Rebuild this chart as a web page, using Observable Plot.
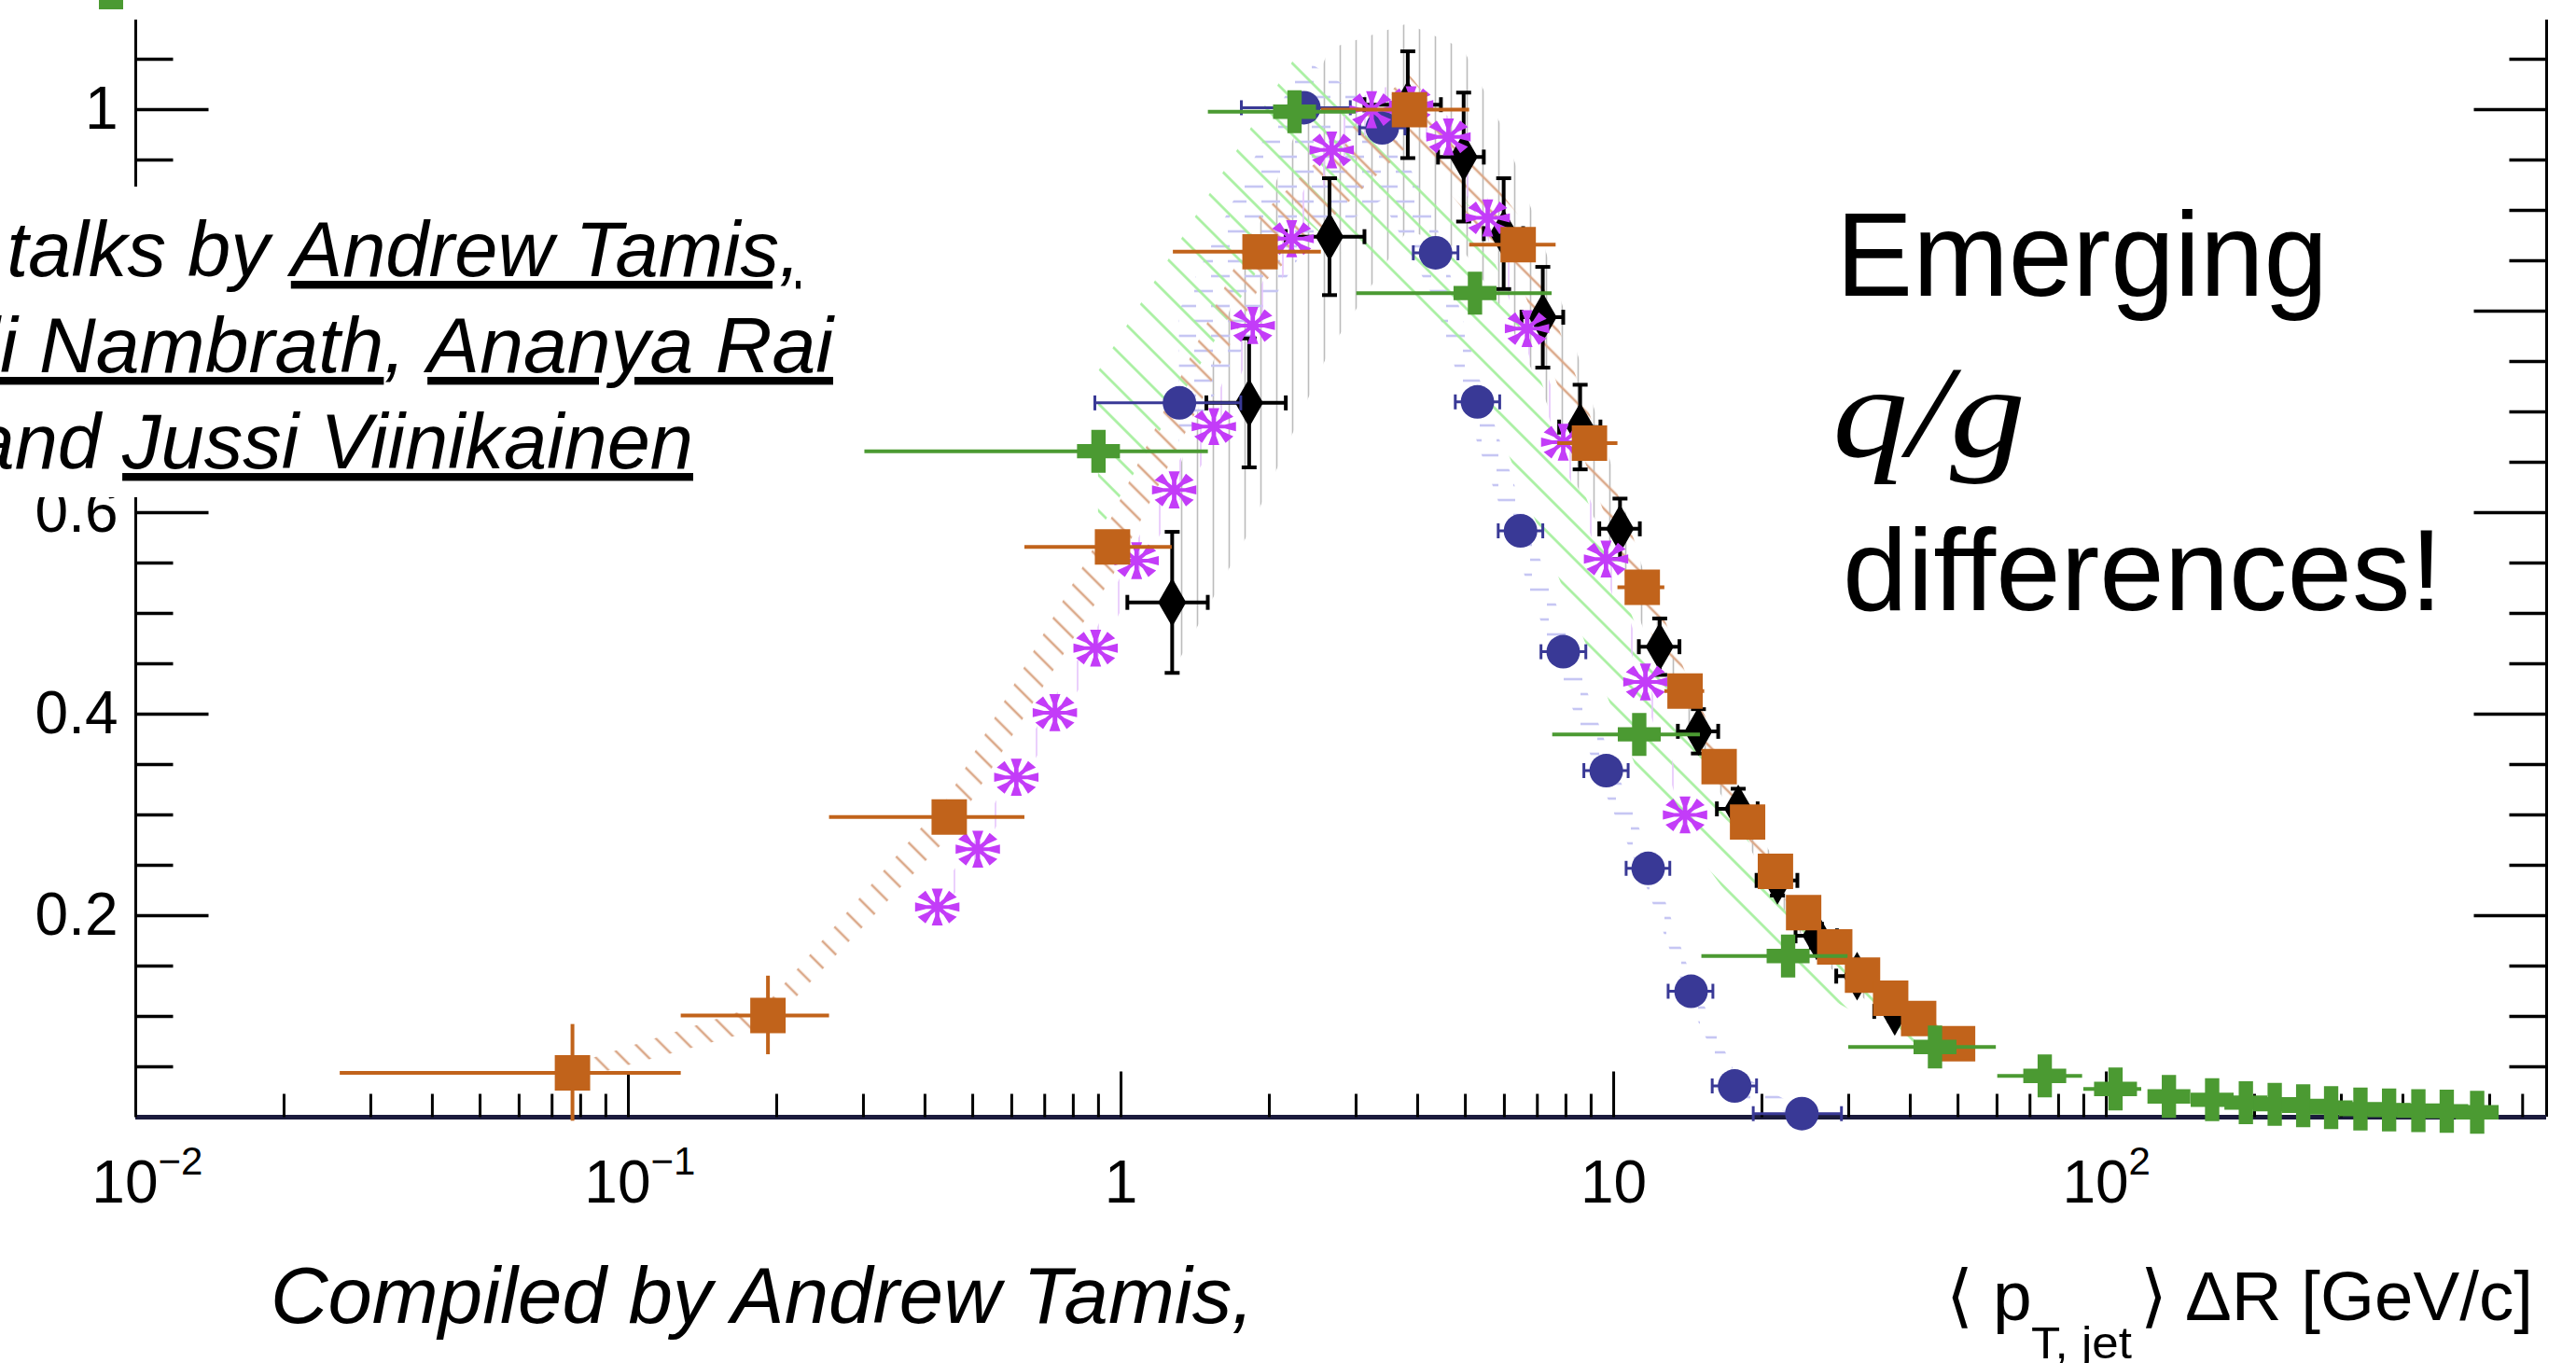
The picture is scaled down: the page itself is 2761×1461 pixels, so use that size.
<!DOCTYPE html>
<html><head><meta charset="utf-8">
<script src="https://cdn.jsdelivr.net/npm/d3@7"></script>
<script src="https://cdn.jsdelivr.net/npm/@observablehq/plot@0.6"></script>
<style>
html,body{margin:0;padding:0;background:#fff;overflow:hidden;}
#chart{position:relative;width:2761px;height:1461px;}
</style></head><body><div id="chart"></div>
<script>
// ---------------- data ----------------
// orange squares
const orangeX   = [0.077, 0.192, 0.448, 0.961, 1.915, 3.85, 6.4, 8.93, 11.43, 13.96, 16.37, 18.7, 21.3, 24.3, 28.1, 32.0, 36.5, 41.6, 49.9];
const orangeY   = [0.044, 0.101, 0.298, 0.566, 0.859, 1.0, 0.866, 0.669, 0.526, 0.423, 0.348, 0.293, 0.244, 0.203, 0.169, 0.141, 0.118, 0.098, 0.073];
const orangeXlo = [0.026, 0.128, 0.256, 0.638, 1.277, 2.55, 5.1, 7.7, 10.2, 12.7, 16.37, 18.7, 21.3, 24.3, 28.1, 32.0, 36.5, 41.6, 49.9];
const orangeXhi = [0.128, 0.256, 0.638, 1.27, 2.55, 5.1, 7.64, 10.2, 12.7, 15.3, 16.37, 18.7, 21.3, 24.3, 28.1, 32.0, 36.5, 41.6, 49.9];
const orangeYerr= [0.048, 0.039, 0, 0, 0, 0, 0, 0, 0, 0, 0, 0, 0, 0, 0, 0, 0, 0, 0];
const orangeSys = [0.008, 0.012, 0.02, 0.03, 0.035, 0.035, 0.03, 0.03, 0.025, 0.02, 0.02, 0.018, 0.015, 0.012, 0.01, 0.01, 0.008, 0.008, 0.006];

// black diamonds
const blackX   = [1.27, 1.82, 2.65, 3.82, 4.96, 5.98, 7.18, 8.55, 10.3, 12.4, 14.86, 17.9, 21.5, 25.8, 31.2, 37.2];
const blackY   = [0.511, 0.709, 0.874, 1.005, 0.953, 0.877, 0.794, 0.685, 0.584, 0.467, 0.383, 0.306, 0.235, 0.18, 0.14, 0.105];
const blackXlo = [1.03, 1.49, 2.16, 3.12, 4.4, 5.45, 6.5, 7.75, 9.35, 11.25, 13.5, 16.2, 19.5, 23.4, 28.3, 33.8];
const blackXhi = [1.50, 2.16, 3.12, 4.46, 5.45, 6.55, 7.9, 9.4, 11.3, 13.6, 16.3, 19.6, 23.6, 28.4, 34.3, 40.9];
const blackYerr= [0.07, 0.064, 0.058, 0.053, 0.064, 0.055, 0.05, 0.042, 0.03, 0.028, 0.022, 0.02, 0.015, 0.012, 0.01, 0.01];
const blackLo  = [0.44, 0.58, 0.76, 0.88, 0.86, 0.80, 0.72, 0.62, 0.55, 0.44, 0.36, 0.29, 0.215, 0.16, 0.125, 0.085];
const blackHi  = [0.62, 0.86, 1.06, 1.085, 1.06, 0.98, 0.87, 0.75, 0.62, 0.49, 0.40, 0.32, 0.25, 0.195, 0.155, 0.115];

// blue circles
const blueX   = [1.314, 2.35, 3.39, 4.35, 5.29, 6.47, 7.9, 9.66, 11.75, 14.36, 17.6, 24.1];
const blueY   = [0.709, 1.002, 0.982, 0.858, 0.710, 0.582, 0.462, 0.344, 0.247, 0.125, 0.031, 0.0035];
const blueXlo = [0.885, 1.755, 3.05, 3.92, 4.77, 5.83, 7.12, 8.7, 10.6, 12.9, 15.85, 19.2];
const blueXhi = [1.75, 2.92, 3.77, 4.83, 5.87, 7.18, 8.78, 10.7, 13.0, 15.9, 19.5, 29.0];
const blueLo  = [0.66, 0.86, 0.91, 0.81, 0.67, 0.55, 0.43, 0.32, 0.225, 0.11, 0.02, 0.0];
const blueHi  = [0.80, 1.05, 1.0, 0.89, 0.74, 0.61, 0.49, 0.37, 0.265, 0.14, 0.045, 0.008];

// magenta stars
const magX   = [0.4236, 0.512, 0.613, 0.734, 0.888, 1.0755, 1.282, 1.543, 1.851, 2.22, 2.677, 3.226, 3.88, 4.62, 5.55, 6.67, 7.9, 9.65, 11.6, 13.96];
const magY   = [0.2086, 0.266, 0.3374, 0.4015, 0.4656, 0.5524, 0.6226, 0.6855, 0.7858, 0.872, 0.96, 1.0, 1.005, 0.973, 0.8926, 0.7827, 0.67, 0.554, 0.432, 0.30];
const magSys = [0.012, 0.012, 0.014, 0.015, 0.016, 0.018, 0.02, 0.02, 0.02, 0.02, 0.02, 0.02, 0.02, 0.02, 0.02, 0.02, 0.018, 0.016, 0.014, 0.012];

// green crosses
const greenX   = [0.90, 2.25, 5.23, 11.27, 22.6, 44.9, 75, 104.4, 134, 164, 192, 219.7, 251, 286, 328, 375, 430, 491, 566];
const greenY   = [0.661, 0.998, 0.818, 0.380, 0.160, 0.0697, 0.041, 0.028, 0.0206, 0.0173, 0.0144, 0.0128, 0.0113, 0.0096, 0.008, 0.0071, 0.0065, 0.0059, 0.0049];
const greenXlo = [0.302, 1.504, 3.01, 7.52, 15.1, 30.0, 60.2, 90, 134, 164, 192, 219.7, 251, 286, 328, 375, 430, 491, 566];
const greenXhi = [1.504, 3.0, 7.5, 15.0, 29.9, 59.8, 89.5, 118, 134, 164, 192, 219.7, 251, 286, 328, 375, 430, 491, 566];
const greenBandX  = [0.90, 2.25, 5.23, 11.27, 22.6, 44.9];
const greenBandLo = [0.58, 0.90, 0.74, 0.34, 0.14, 0.06];
const greenBandHi = [0.74, 1.05, 0.90, 0.48, 0.20, 0.08];

// axes
const X_MIN = 0.01, X_MAX = 783, Y_MAX = 1.089;
const xMajor = [0.01, 0.1, 1, 10, 100];
const xMinorMult = [2, 3, 4, 5, 6, 7, 8, 9];
const yMajor = [0.2, 0.4, 0.6, 0.8, 1.0];
const yMinor = [0.05, 0.1, 0.15, 0.25, 0.3, 0.35, 0.45, 0.5, 0.55, 0.65, 0.7, 0.75, 0.85, 0.9, 0.95, 1.05];
const yTickLabels = [{v: 0.2, t: "0.2"}, {v: 0.4, t: "0.4"}, {v: 0.6, t: "0.6"}, {v: 1.0, t: "1"}];
const xPlainLabels = [{v: 1, t: "1"}, {v: 10, t: "10"}];
const xExpLabels = [{v: 0.01, base: "10", exp: "\u22122"}, {v: 0.1, base: "10", exp: "\u22121"}, {v: 100, base: "10", exp: "2"}];

// ---------------- build ----------------
const ORANGE = "#c1631b", BLUE = "#393996", MAG = "#c33cf8", GREEN = "#4b9a32";
const orange = orangeX.map((x, i) => ({x, y: orangeY[i], xlo: orangeXlo[i], xhi: orangeXhi[i], yerr: orangeYerr[i], sys: orangeSys[i]}));
const black = blackX.map((x, i) => ({x, y: blackY[i], xlo: blackXlo[i], xhi: blackXhi[i], yerr: blackYerr[i], lo: blackLo[i], hi: blackHi[i]}));
const blue = blueX.map((x, i) => ({x, y: blueY[i], xlo: blueXlo[i], xhi: blueXhi[i], lo: blueLo[i], hi: blueHi[i]}));
const mag = magX.map((x, i) => ({x, y: magY[i], sys: magSys[i]}));
const green = greenX.map((x, i) => ({x, y: greenY[i], xlo: greenXlo[i], xhi: greenXhi[i]}));
const greenBand = greenBandX.map((x, i) => ({x, lo: greenBandLo[i], hi: greenBandHi[i]}));
const xMinor = xMajor.flatMap(d => xMinorMult.map(m => d * m)).filter(v => v < X_MAX);

const seg = (dx, dy) => ({draw(ctx) { ctx.moveTo(0, 0); ctx.lineTo(dx, dy); }});
const vcap = {draw(ctx) { ctx.moveTo(0, -8); ctx.lineTo(0, 8); }};
const hcap = {draw(ctx) { ctx.moveTo(-8, 0); ctx.lineTo(8, 0); }};
const asterisk = {draw(ctx, size) {
  const R = Math.sqrt(size / Math.PI);
  const h = R * 0.1, t = R * 0.25, L = R * 0.5;
  for (let k = 0; k < 8; k++) {
    const a = k * Math.PI / 4, c = Math.cos(a), s = Math.sin(a);
    const P = (u, v) => [(u * c - v * s) * 1.08, (u * s + v * c) * 0.9];
    const pts = [P(0, -h), P(L, -h), P(R, -t), P(R, t), P(L, h), P(0, h)];
    ctx.moveTo(pts[0][0], pts[0][1]);
    for (let j = 1; j < pts.length; j++) ctx.lineTo(pts[j][0], pts[j][1]);
    ctx.closePath();
  }
}};
const FONT = "Liberation Sans, Arial, Helvetica, sans-serif";

const svg = Plot.plot({
  width: 2761, height: 1461,
  marginLeft: 145, marginRight: 32, marginTop: 21, marginBottom: 264,
  style: {background: "white", overflow: "visible"},
  x: {type: "log", domain: [X_MIN, X_MAX], axis: null},
  y: {domain: [0, Y_MAX], axis: null},
  marks: [
    // systematic bands
    Plot.areaY(black, {x: "x", y1: "lo", y2: "hi", fill: "url(#hGray)"}),
    Plot.areaY(blue, {x: "x", y1: "lo", y2: "hi", fill: "url(#hBlue)"}),
    Plot.areaY(greenBand, {x: "x", y1: "lo", y2: "hi", fill: "url(#hGreen)"}),
    Plot.areaY(orange, {x: "x", y1: d => d.y - d.sys, y2: d => d.y + d.sys, fill: "url(#hOrange)"}),
    Plot.areaY(mag, {x: "x", y1: d => d.y - d.sys, y2: d => d.y + d.sys, fill: "url(#hMag)"}),
    // frame
    Plot.ruleX([X_MIN], {y1: 0, y2: Y_MAX, stroke: "black", strokeWidth: 3}),
    Plot.ruleX([X_MAX], {y1: 0, y2: Y_MAX, stroke: "black", strokeWidth: 3}),
    Plot.ruleY([0], {x1: X_MIN, x2: X_MAX, stroke: "#1b1b3d", strokeWidth: 5}),
    // ticks
    Plot.dot(yMajor, {x: () => X_MIN, y: d => d, symbol: seg(78, 0), fill: "none", stroke: "black", strokeWidth: 3.5}),
    Plot.dot(yMinor, {x: () => X_MIN, y: d => d, symbol: seg(40, 0), fill: "none", stroke: "black", strokeWidth: 3.5}),
    Plot.dot(yMajor, {x: () => X_MAX, y: d => d, symbol: seg(-78, 0), fill: "none", stroke: "black", strokeWidth: 3.5}),
    Plot.dot(yMinor, {x: () => X_MAX, y: d => d, symbol: seg(-40, 0), fill: "none", stroke: "black", strokeWidth: 3.5}),
    Plot.dot(xMajor, {x: d => d, y: () => 0, symbol: seg(0, -49), fill: "none", stroke: "black", strokeWidth: 3}),
    Plot.dot(xMinor, {x: d => d, y: () => 0, symbol: seg(0, -25), fill: "none", stroke: "black", strokeWidth: 3}),
    // tick labels
    Plot.text(yTickLabels, {x: () => X_MIN, y: "v", text: "t", textAnchor: "end", dx: -19, lineAnchor: "middle", fontSize: 64, fontFamily: FONT, fill: "black"}),
    Plot.text(xPlainLabels, {x: "v", y: () => 0, text: "t", textAnchor: "middle", dy: 91, lineAnchor: "bottom", fontSize: 64, fontFamily: FONT, fill: "black"}),
    Plot.text(xExpLabels, {x: "v", y: () => 0, text: "base", textAnchor: "end", dx: 24, dy: 91, lineAnchor: "bottom", fontSize: 64, fontFamily: FONT, fill: "black"}),
    Plot.text(xExpLabels, {x: "v", y: () => 0, text: "exp", textAnchor: "start", dx: 24, dy: 61, lineAnchor: "bottom", fontSize: 42, fontFamily: FONT, fill: "black"}),
    // black diamonds
    Plot.ruleY(black, {y: "y", x1: "xlo", x2: "xhi", stroke: "black", strokeWidth: 4}),
    Plot.ruleX(black, {x: "x", y1: d => d.y - d.yerr, y2: d => d.y + d.yerr, stroke: "black", strokeWidth: 4}),
    Plot.dot(black, {x: "xlo", y: "y", symbol: vcap, fill: "none", stroke: "black", strokeWidth: 4}),
    Plot.dot(black, {x: "xhi", y: "y", symbol: vcap, fill: "none", stroke: "black", strokeWidth: 4}),
    Plot.dot(black, {x: "x", y: d => d.y + d.yerr, symbol: hcap, fill: "none", stroke: "black", strokeWidth: 4}),
    Plot.dot(black, {x: "x", y: d => d.y - d.yerr, symbol: hcap, fill: "none", stroke: "black", strokeWidth: 4}),
    Plot.dot(black, {x: "x", y: "y", symbol: "diamond", r: 15.8, fill: "black", stroke: "none"}),
    // blue circles
    Plot.ruleY(blue, {y: "y", x1: "xlo", x2: "xhi", stroke: BLUE, strokeWidth: 3}),
    Plot.dot(blue, {x: "xlo", y: "y", symbol: vcap, fill: "none", stroke: BLUE, strokeWidth: 3}),
    Plot.dot(blue, {x: "xhi", y: "y", symbol: vcap, fill: "none", stroke: BLUE, strokeWidth: 3}),
    Plot.dot(blue, {x: "x", y: "y", r: 18, fill: BLUE, stroke: "none"}),
    // magenta stars
    Plot.dot(mag, {x: "x", y: "y", symbol: asterisk, r: 22, fill: MAG, stroke: "none"}),
    // orange squares
    Plot.ruleY(orange, {y: "y", x1: "xlo", x2: "xhi", stroke: ORANGE, strokeWidth: 4}),
    Plot.ruleX(orange.filter(d => d.yerr > 0), {x: "x", y1: d => d.y - d.yerr, y2: d => d.y + d.yerr, stroke: ORANGE, strokeWidth: 4}),
    Plot.dot(orange, {x: "x", y: "y", symbol: "square", r: 21.4, fill: ORANGE, stroke: "none"}),
    // green crosses
    Plot.ruleY(green, {y: "y", x1: "xlo", x2: "xhi", stroke: GREEN, strokeWidth: 4}),
    Plot.dot(green, {x: "x", y: "y", symbol: "cross", r: 19.35, fill: GREEN, stroke: "none"})
  ]
});
document.getElementById("chart").appendChild(svg);

// ---------------- patterns ----------------
const S = d3.select(svg);
const defs = S.insert("defs", ":first-child");
function pat(id, w, h, transform, lines, color, sw) {
  const p = defs.append("pattern").attr("id", id).attr("patternUnits", "userSpaceOnUse")
    .attr("width", w).attr("height", h);
  if (transform) p.attr("patternTransform", transform);
  lines.forEach(([x1, y1, x2, y2]) => p.append("line").attr("x1", x1).attr("y1", y1).attr("x2", x2).attr("y2", y2)
    .attr("stroke", color).attr("stroke-width", sw));
}
pat("hGreen", 27, 27, "rotate(45)", [[0, 13.5, 27, 13.5]], "#a4ef9c", 2.6);
pat("hOrange", 20, 20, "rotate(45)", [[0, 10, 20, 10]], "#dba98a", 2.6);
pat("hGray", 17, 10, null, [[8.5, 0, 8.5, 10]], "#bcbcbc", 1.6);
pat("hBlue", 36, 32, null, [[2, 8, 22, 8], [20, 24, 36, 24], [0, 24, 4, 24]], "#c6c6f3", 2.6);
pat("hMag", 22, 10, null, [[11, 0, 11, 10]], "#e6c4fb", 1.6);

// ---------------- annotations ----------------
// cropped legend marker at the very top
S.append("rect").attr("x", 106).attr("y", 0).attr("width", 26).attr("height", 10).attr("fill", GREEN);
// white box behind the left note
S.append("rect").attr("x", 0).attr("y", 200).attr("width", 905).attr("height", 333).attr("fill", "white");

function noteLine(parts, endX, baseline, visibleText, visibleW, size) {
  const t = S.append("text").attr("font-family", FONT).attr("font-style", "italic")
    .attr("font-size", size).attr("text-anchor", "end").attr("fill", "black");
  parts.forEach(([s, u]) => t.append("tspan").text(s).style("text-decoration", u ? "underline" : "none"));
  const tmp = S.append("text").attr("font-family", FONT).attr("font-style", "italic").attr("font-size", size).text(visibleText);
  const w = tmp.node().getComputedTextLength(); tmp.remove();
  t.attr("transform", `translate(${endX},${baseline}) scale(${visibleW / w},1)`);
}
noteLine([["talks by ", false], ["Andrew Tamis,", true]], 858, 296, "talks by Andrew Tamis,", 848, 84);
noteLine([["Anjali Nambrath", true], [", ", false], ["Ananya Rai", true]], 893, 399, "Nambrath, Ananya Rai", 848, 84);
noteLine([["and ", false], ["Jussi Viinikainen", true]], 743, 502, "Jussi Viinikainen", 612, 84);

function txt(s, x, y, size, opts = {}) {
  const t = S.append("text").attr("x", x).attr("y", y).attr("font-size", size)
    .attr("font-family", opts.family || FONT).attr("fill", "black")
    .attr("text-anchor", opts.anchor || "start").text(s);
  if (opts.italic) t.attr("font-style", "italic");
  if (opts.len) t.attr("textLength", opts.len).attr("lengthAdjust", "spacingAndGlyphs");
  return t;
}
// right note
txt("Emerging", 1968, 317, 128, {len: 527});
txt("q/g", 1964, 489, 140, {family: "Liberation Serif, Times New Roman, serif", italic: true, len: 207});
txt("differences!", 1975, 654, 125, {len: 643});
// x-axis title
txt("\u27E8", 2086, 1414, 74, {family: "DejaVu Sans, sans-serif"});
txt("p", 2136, 1415, 75);
txt("T, jet", 2177, 1456, 48, {len: 108});
txt("\u27E9", 2294, 1414, 74, {family: "DejaVu Sans, sans-serif"});
txt("\u0394R [GeV/c]", 2342, 1415, 75, {len: 373});
// bottom credit
txt("Compiled by Andrew Tamis,", 290, 1418, 85, {italic: true, len: 1054});
</script></body></html>
